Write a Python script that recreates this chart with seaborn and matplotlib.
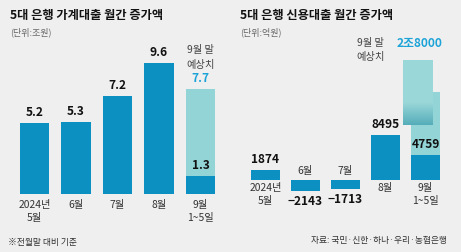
import numpy as np
import pandas as pd
import seaborn as sns
import matplotlib.pyplot as plt
from matplotlib.transforms import blended_transform_factory as blend
from matplotlib.colors import LinearSegmentedColormap

# 5대 은행 가계대출 월간 증가액 (조원)
hh_months = ['2024년\n5월', '6월', '7월', '8월', '9월\n1~5일']
hh_values = [5.2, 5.3, 7.2, 9.6, 1.3]
hh_forecast = 7.7
hh_forecast_label = '7.7'

# 5대 은행 신용대출 월간 증가액 (억원)
cr_months = ['2024년\n5월', '6월', '7월', '8월', '9월\n1~5일']
cr_values = [1874, -2143, -1713, 8495, 4759]
cr_forecast = 28000
cr_forecast_label = '2조8000'
# the forecast bar is drawn with an axis break
cr_break_low = 16600
cr_break_top = 22600

DARK = '#0c8fc1'
LIGHT = '#93d4d6'
TEAL_TXT = '#1ca3d8'
BG = '#efefef'
TXT = '#333333'

plt.rcParams['font.family'] = ['Noto Sans CJK KR', 'DejaVu Sans']
W, H = 461, 252
fig = plt.figure(figsize=(W / 100, H / 100), dpi=100, facecolor=BG)


def fy(y):
    # pixel row (from top) -> figure fraction
    return 1 - y / H


def axes_px(left, width, y_bottom, y_top):
    # rows are pixel rows from the top of the image
    return fig.add_axes([left / W, (H - y_bottom) / H, width / W, (y_bottom - y_top) / H])


# ---------------- left: 가계대출 ----------------
span1 = 13.65
ax1 = axes_px(13.75, 207.5, 194 + 4 * span1, 194 - 12 * span1)
ax1.set_facecolor(BG)
hh = pd.DataFrame({'month': hh_months, 'value': hh_values})
sns.barplot(x=[hh_months[-1]], y=[hh_forecast], order=hh_months, color=LIGHT,
            saturation=1, width=0.72, ax=ax1)
sns.barplot(data=hh, x='month', y='value', order=hh_months, color=DARK,
            saturation=1, width=0.72, ax=ax1)
ax1.set_xlim(-0.5, 4.5)
ax1.set_ylim(-4, 12)
ax1.axis('off')

pad = 0.3
for i, v in enumerate(hh_values):
    ax1.text(i, v + pad, f'{v:.1f}', ha='center', va='bottom', fontsize=8.6,
             fontweight='bold', color='#111111')
    ax1.text(i, -0.45, hh_months[i], ha='center', va='top', fontsize=7.4,
             color=TXT, linespacing=1.3)
ax1.text(4, hh_forecast + pad, hh_forecast_label, ha='center', va='bottom',
         fontsize=8.6, fontweight='bold', color=TEAL_TXT)
ax1.text(4, fy(57.5), '9월 말\n예상치', transform=blend(ax1.transData, fig.transFigure),
         ha='center', va='center', fontsize=7.4, color='#444444', linespacing=1.55)

fig.text(10 / W, fy(15), '5대 은행 가계대출 월간 증가액', fontsize=8.8, fontweight='bold',
         color='#111111', va='center', ha='left')
fig.text(10 / W, fy(32), '(단위:조원)', fontsize=6.5, color='#666666', va='center', ha='left')
fig.text(8 / W, fy(242), '※전월말 대비 기준', fontsize=6.3, color=TXT, va='center', ha='left')

# ---------------- right: 신용대출 ----------------
span2 = 0.0053
ax2 = axes_px(245.5, 200, 180 + 13000 * span2, 180 - 30000 * span2)
ax2.set_facecolor(BG)
cr = pd.DataFrame({'month': cr_months, 'value': cr_values})
sns.barplot(x=[cr_months[-1]], y=[cr_break_low], order=cr_months, color=LIGHT,
            saturation=1, width=0.73, ax=ax2)
sns.barplot(data=cr, x='month', y='value', order=cr_months, color=DARK,
            saturation=1, width=0.73, ax=ax2)

# upper piece of the broken forecast bar, shifted left
up_x0, up_w = 4 - 0.56, 0.75
up_y0 = cr_break_low - 6200
ax2.bar(up_x0 + up_w / 2, cr_break_top - up_y0, bottom=up_y0, width=up_w,
        color='#9ad7d9', zorder=4)
grad = LinearSegmentedColormap.from_list('g', ['#55adb9', '#9ad7d9'])
ax2.imshow(np.linspace(0, 1, 64).reshape(-1, 1), cmap=grad, aspect='auto',
           origin='lower', extent=[up_x0, up_x0 + up_w, up_y0, up_y0 + 4200], zorder=5)
ax2.set_xlim(-0.5, 4.5)
ax2.set_ylim(-13000, 30000)
ax2.axis('off')

tf2 = blend(ax2.transData, fig.transFigure)
rpad = 700
for i, v in enumerate(cr_values):
    if v >= 0:
        ax2.text(i, v + rpad, f'{v}', ha='center', va='bottom', fontsize=8.6,
                 fontweight='bold', color='#111111', zorder=6)
        ax2.text(i, -600, cr_months[i], ha='center', va='top', fontsize=7.4,
                 color=TXT, linespacing=1.3)
    else:
        ax2.text(i, v - rpad, f'\u2212{abs(v)}', ha='center', va='top', fontsize=8.6,
                 fontweight='bold', color='#111111')
        ax2.text(i, 700, cr_months[i], ha='center', va='bottom', fontsize=7.4,
                 color=TXT)
ax2.text(up_x0 + up_w / 2 + 0.03, fy(43), cr_forecast_label, transform=tf2, ha='center',
         va='center', fontsize=8.6, fontweight='bold', color=TEAL_TXT)
ax2.text(2.63, fy(50), '9월 말\n예상치', transform=tf2, ha='center', va='center',
         fontsize=7.4, color='#444444', linespacing=1.5)

fig.text(240 / W, fy(15), '5대 은행 신용대출 월간 증가액', fontsize=8.8, fontweight='bold',
         color='#111111', va='center', ha='left')
fig.text(240 / W, fy(32), '(단위:억원)', fontsize=6.5, color='#666666', va='center', ha='left')
fig.text(447 / W, fy(241), '자료: 국민·신한·하나·우리·농협은행', fontsize=6.3, color=TXT,
         va='center', ha='right')

fig.savefig('out.png', dpi=100, facecolor=BG)
